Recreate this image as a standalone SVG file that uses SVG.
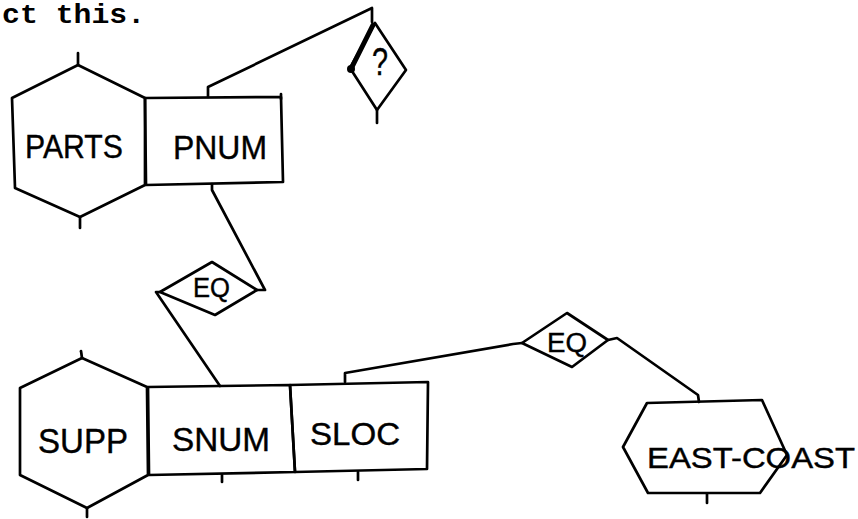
<svg xmlns="http://www.w3.org/2000/svg" width="858" height="519" viewBox="0 0 858 519">
  <style>
    .ln { fill: none; stroke: #000; stroke-width: 2.7; stroke-linejoin: round; stroke-linecap: round; }
    .heavy { stroke-width: 5; }
    .lbl { font-family: "Liberation Sans", "DejaVu Sans", sans-serif; fill: #000; stroke: #000; stroke-width: 0.4; }
    .cap { font-family: "Liberation Mono", "DejaVu Sans Mono", monospace; font-weight: bold; fill: #000; }
  </style>
  <rect width="858" height="519" fill="#fff"/>

  <text class="cap" x="2" y="23" font-size="28" textLength="143" lengthAdjust="spacingAndGlyphs">ct this.</text>

  <!-- connectors -->
  <g id="connectors" class="ln">
    <!-- PNUM to ? -->
    <polyline points="208,97 208,87 372,8 372,22"/>
    <!-- PNUM to EQ (upper) -->
    <polyline points="212,184 212,190 265,290 257,290"/>
    <!-- EQ (upper) to SNUM -->
    <polyline points="160,292 156,292 220,386"/>
    <!-- SLOC to EQ (right) -->
    <polyline points="345,382 345,373 513,344 522,343"/>
    <!-- EQ (right) to EAST-COAST -->
    <polyline points="608,340 617,338 698,395 699,402"/>
    <!-- short stubs -->
    <line x1="78" y1="53" x2="78" y2="65"/>
    <line x1="80" y1="217" x2="80" y2="228"/>
    <line x1="81" y1="351" x2="82" y2="358"/>
    <line x1="87" y1="508" x2="87" y2="517"/>
    <line x1="281" y1="94" x2="281" y2="99"/>
    <line x1="377" y1="110" x2="377" y2="123"/>
    <line x1="222" y1="475" x2="222" y2="482"/>
    <line x1="358" y1="472" x2="358" y2="480"/>
    <line x1="707" y1="494" x2="707" y2="503"/>
  </g>

  <g id="parts">
    <polygon class="ln" points="78,65 145,98 145,185 80,217 15,188 12,98"/>
    <text class="lbl" x="25" y="158" font-size="34" textLength="98" lengthAdjust="spacingAndGlyphs">PARTS</text>
  </g>

  <g id="pnum">
    <polygon class="ln" points="145,98 281,97 283,182 146,185"/>
    <text class="lbl" x="173" y="159" font-size="34" textLength="94" lengthAdjust="spacingAndGlyphs">PNUM</text>
  </g>

  <g id="query">
    <polygon class="ln" points="375,23 406,70 377,110 350,68"/>
    <line class="ln heavy" x1="373" y1="25" x2="352" y2="67"/>
    <circle cx="351" cy="69" r="4"/>
    <text class="lbl" x="372" y="75" font-size="38" textLength="16" lengthAdjust="spacingAndGlyphs">?</text>
  </g>

  <g id="eq-join">
    <polygon class="ln" points="160,292 212,262 257,290 215,315"/>
    <text class="lbl" x="193" y="297" font-size="27" textLength="37" lengthAdjust="spacingAndGlyphs">EQ</text>
  </g>

  <g id="supp">
    <polygon class="ln" points="82,358 147,387 148,475 87,508 20,475 20,388"/>
    <text class="lbl" x="38" y="453" font-size="35" textLength="90" lengthAdjust="spacingAndGlyphs">SUPP</text>
  </g>

  <g id="snum">
    <polygon class="ln" points="148,387 290,385 295,472 149,475"/>
    <text class="lbl" x="172" y="451" font-size="33" textLength="98" lengthAdjust="spacingAndGlyphs">SNUM</text>
  </g>

  <g id="sloc">
    <polygon class="ln" points="290,385 428,382 427,469 295,472"/>
    <text class="lbl" x="310" y="445" font-size="32" textLength="90" lengthAdjust="spacingAndGlyphs">SLOC</text>
  </g>

  <g id="eq-loc">
    <polygon class="ln" points="522,343 567,313 608,340 572,367"/>
    <text class="lbl" x="547" y="352" font-size="27" textLength="40" lengthAdjust="spacingAndGlyphs">EQ</text>
  </g>

  <g id="east-coast">
    <polygon class="ln" points="647,403 762,400 787,455 760,493 648,493 623,447"/>
    <text class="lbl" x="647" y="468" font-size="29" textLength="208" lengthAdjust="spacingAndGlyphs">EAST-COAST</text>
  </g>
</svg>
